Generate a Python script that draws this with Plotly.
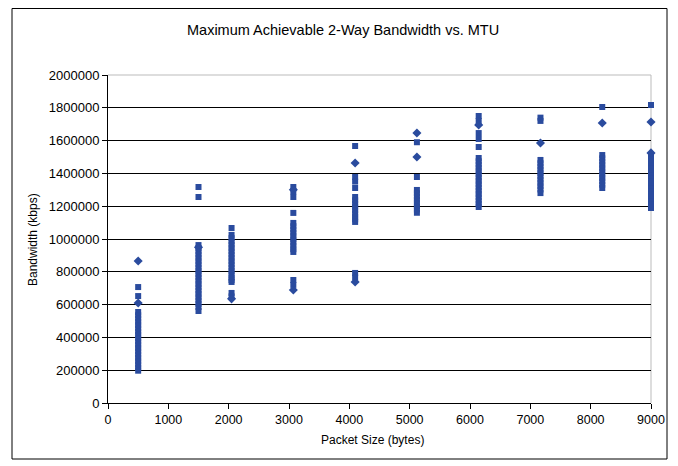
import plotly.graph_objects as go

# Packet sizes (bytes) for each measured column
packet_sizes = [500, 1500, 2048, 3072, 4096, 5120, 6144, 7168, 8192, 9000]

# Bandwidth readings (kbps) drawn as squares, per packet size
sq_500 = [707000, 652000, 555000, 535000, 515000, 495000, 475000, 455000, 435000, 415000,
          395000, 375000, 355000, 335000, 315000, 295000, 275000, 255000, 235000, 215000, 197000]
sq_1500 = [1317000, 1256000, 963000, 945000, 925000, 905000, 885000, 865000, 845000, 825000,
           805000, 785000, 765000, 745000, 725000, 705000, 685000, 665000, 645000, 625000, 605000,
           585000, 561000]
sq_2048 = [1067000, 1025000, 1005000, 985000, 965000, 945000, 925000, 905000, 885000, 865000,
           845000, 825000, 805000, 785000, 765000, 750000, 738000, 671000, 650000]
sq_3072 = [1317000, 1290000, 1256000, 1159000, 1098000, 1078000, 1058000, 1038000, 1018000,
           998000, 978000, 958000, 938000, 921000, 750000, 720000]
sq_4096 = [1567000, 1378000, 1350000, 1311000, 1256000, 1236000, 1216000, 1196000, 1176000,
           1156000, 1136000, 1120000, 1104000, 793000, 765000]
sq_5120 = [1590000, 1378000, 1299000, 1279000, 1259000, 1239000, 1219000, 1199000, 1180000, 1160000]
sq_6144 = [1750000, 1720000, 1646000, 1610000, 1561000, 1494000, 1474000, 1454000, 1434000,
           1414000, 1394000, 1374000, 1354000, 1334000, 1314000, 1294000, 1274000, 1254000,
           1234000, 1214000, 1195000]
sq_7168 = [1740000, 1720000, 1482000, 1462000, 1442000, 1422000, 1402000, 1382000, 1362000,
           1342000, 1322000, 1302000, 1280000]
sq_8192 = [1805000, 1512000, 1492000, 1472000, 1452000, 1432000, 1412000, 1392000, 1372000,
           1352000, 1331000, 1311000]
sq_9000 = [1817000, 1510000, 1490000, 1470000, 1450000, 1430000, 1410000, 1390000, 1370000,
           1350000, 1330000, 1310000, 1290000, 1270000, 1250000, 1230000, 1210000, 1189000]

# Bandwidth readings (kbps) drawn as diamonds, per packet size
dm_500 = [866000, 610000]
dm_1500 = [950000]
dm_2048 = [635000]
dm_3072 = [1300000, 689000]
dm_4096 = [1463000, 738000]
dm_5120 = [1646000, 1500000]
dm_6144 = [1695000]
dm_7168 = [1585000]
dm_8192 = [1707000]
dm_9000 = [1713000, 1525000]

squares = [sq_500, sq_1500, sq_2048, sq_3072, sq_4096, sq_5120, sq_6144, sq_7168, sq_8192, sq_9000]
diamonds = [dm_500, dm_1500, dm_2048, dm_3072, dm_4096, dm_5120, dm_6144, dm_7168, dm_8192, dm_9000]

sx, sy, dx, dy = [], [], [], []
for size, vals in zip(packet_sizes, squares):
    sx += [size] * len(vals)
    sy += vals
for size, vals in zip(packet_sizes, diamonds):
    dx += [size] * len(vals)
    dy += vals

BLUE = "#2A4B9E"
FONT = "Liberation Sans, Arial, sans-serif"

fig = go.Figure()
fig.add_trace(go.Scatter(x=sx, y=sy, mode="markers", cliponaxis=False,
                         marker=dict(symbol="square", size=6, color=BLUE, line=dict(width=0))))
fig.add_trace(go.Scatter(x=dx, y=dy, mode="markers", cliponaxis=False,
                         marker=dict(symbol="diamond", size=7, color=BLUE, line=dict(width=0))))

# The page body adds an 8 px offset; figure is sized so the plot area lands
# at page x 108..651, y 75..403 (543 x 328 px).
W, H = 670, 458
ML, MT = 100, 67
PW, PH = 543, 328

def px(xp):   # page x -> paper fraction
    return (xp - 8 - ML) / PW

def py(yp):   # page y -> paper fraction
    return (8 + MT + PH - yp) / PH

frame = dict(type="rect", xref="paper", yref="paper",
             x0=px(12), x1=px(667), y0=py(459), y1=py(8.5),
             line=dict(color="black", width=1))

fig.update_layout(
    width=W, height=H,
    margin=dict(l=ML, r=W - ML - PW, t=MT, b=H - MT - PH, pad=0),
    paper_bgcolor="white", plot_bgcolor="white",
    showlegend=False,
    font=dict(family=FONT, size=12, color="black"),
    xaxis=dict(range=[0, 9000], tick0=0, dtick=1000, ticks="outside", ticklen=5,
               tickcolor="black", showline=True, linecolor="black", linewidth=1,
               showgrid=False, zeroline=False, tickfont=dict(size=12.5)),
    yaxis=dict(range=[0, 2000000], tick0=0, dtick=200000, ticks="outside", ticklen=5,
               tickcolor="black", showline=True, linecolor="black", linewidth=1,
               showgrid=True, gridcolor="black", gridwidth=1, zeroline=False,
               tickformat="d", tickfont=dict(size=13)),
    shapes=[
        frame,
        dict(type="line", xref="paper", yref="paper", x0=0, x1=1, y0=1, y1=1,
             line=dict(color="#BBBBBB", width=1)),
        dict(type="line", xref="paper", yref="paper", x0=1, x1=1, y0=0, y1=1,
             line=dict(color="#BBBBBB", width=1), layer="below"),
    ],
    annotations=[
        dict(text="Maximum Achievable 2-Way Bandwidth vs. MTU", xref="paper", yref="paper",
             x=px(343), y=py(30), showarrow=False, xanchor="center", yanchor="middle",
             font=dict(size=14.5)),
        dict(text="Packet Size (bytes)", xref="paper", yref="paper",
             x=px(372), y=py(440), showarrow=False,
             xanchor="center", yanchor="middle", font=dict(size=12)),
        dict(text="Bandwidth (kbps)", xref="paper", yref="paper", textangle=-90,
             x=px(33), y=py(240), showarrow=False,
             xanchor="center", yanchor="middle", font=dict(size=12)),
    ],
)

fig.write_html("out.html")
